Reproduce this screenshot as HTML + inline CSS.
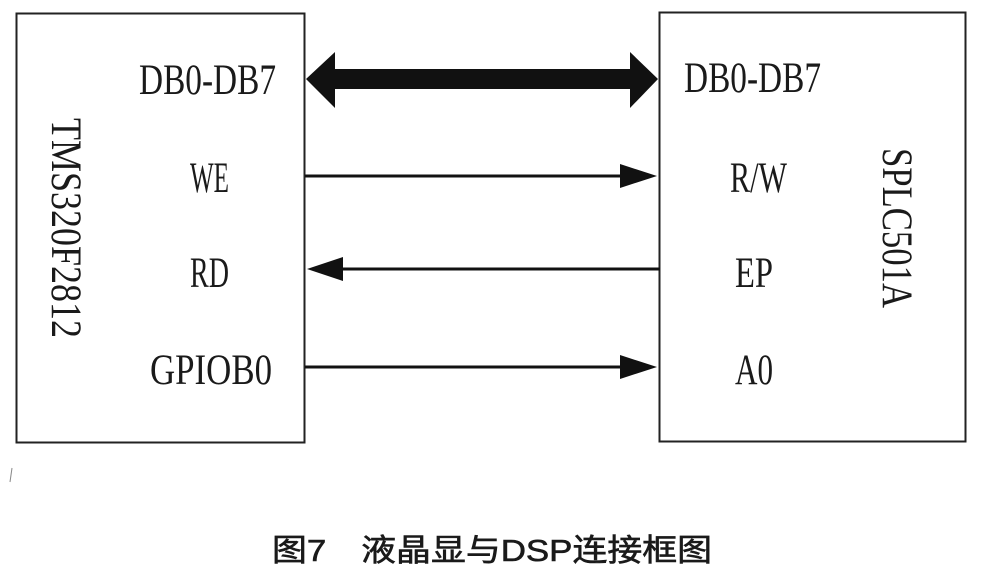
<!DOCTYPE html>
<html><head><meta charset="utf-8"><style>
html,body{margin:0;padding:0;background:#fff;}
svg{display:block;}
text{font-family:"Liberation Serif","Noto Serif CJK SC",serif;fill:#1a1a1a;}
</style></head><body>
<svg width="989" height="573" viewBox="0 0 989 573" xmlns="http://www.w3.org/2000/svg">
<rect x="16.5" y="13.5" width="288" height="429" fill="none" stroke="#222" stroke-width="2"/>
<rect x="659.5" y="12.5" width="306" height="429" fill="none" stroke="#222" stroke-width="2"/>
<polygon points="306,79 335,52 335,69 630,69 630,52 658,79 630,108 630,89 335,89 335,108" fill="#111"/>
<line x1="305" y1="176" x2="625" y2="176" stroke="#111" stroke-width="3"/>
<polygon points="620,164 657,176 620,188" fill="#111"/>
<line x1="340" y1="269" x2="660" y2="269" stroke="#111" stroke-width="3"/>
<polygon points="343,257 307,269 343,281" fill="#111"/>
<line x1="305" y1="367" x2="625" y2="367" stroke="#111" stroke-width="3"/>
<polygon points="620,355 657,367 620,379" fill="#111"/>
<g font-size="43">
<text x="139" y="94" textLength="137" lengthAdjust="spacingAndGlyphs">DB0-DB7</text>
<text x="190" y="192" textLength="39" lengthAdjust="spacingAndGlyphs">WE</text>
<text x="190" y="287" textLength="39" lengthAdjust="spacingAndGlyphs">RD</text>
<text x="150" y="384" textLength="122" lengthAdjust="spacingAndGlyphs">GPIOB0</text>
<text x="684" y="92" textLength="137" lengthAdjust="spacingAndGlyphs">DB0-DB7</text>
<text x="730" y="192" textLength="57" lengthAdjust="spacingAndGlyphs">R/W</text>
<text x="735" y="287" textLength="38" lengthAdjust="spacingAndGlyphs">EP</text>
<text x="735" y="384" textLength="38" lengthAdjust="spacingAndGlyphs">A0</text>
<text transform="translate(52,118) rotate(90)" textLength="220" lengthAdjust="spacingAndGlyphs">TMS320F2812</text>
<text transform="translate(883,148) rotate(90)" textLength="160" lengthAdjust="spacingAndGlyphs">SPLC501A</text>
</g>
<text x="272" y="561" font-size="31" textLength="440" lengthAdjust="spacingAndGlyphs" stroke="#1a1a1a" stroke-width="0.6" style="font-family:'Liberation Sans','Noto Sans CJK SC',sans-serif">图7　液晶显与DSP连接框图</text>
<line x1="12" y1="468" x2="10" y2="482" stroke="#888" stroke-width="1"/>
</svg>
</body></html>
